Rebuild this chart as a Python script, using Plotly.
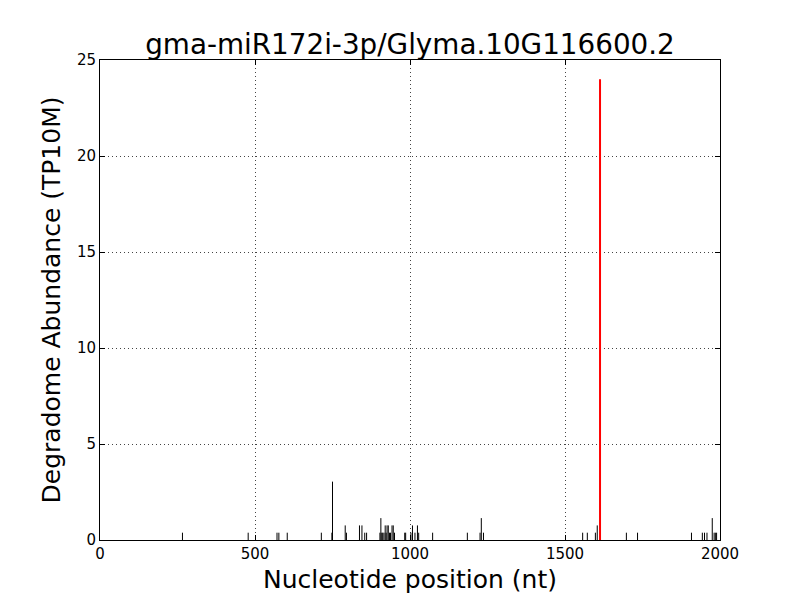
import plotly.graph_objects as go

# Degradome tags (black) : positions (nt) and abundance (TP10M)
positions = [266, 478, 571, 577, 604, 714, 748, 750, 791, 795, 837, 845, 854, 860,
             903, 906, 909, 912, 916, 920, 923, 926, 930, 934, 937, 942, 946, 950,
             983, 986, 1003, 1008, 1016, 1024, 1028, 1073, 1185, 1226, 1230, 1237,
             1557, 1572, 1598, 1604, 1698, 1734, 1908, 1943, 1950, 1958, 1975,
             1981, 1985, 1989]
abundance = [0.38, 0.38, 0.38, 0.38, 0.38, 0.38, 0.38, 3.04, 0.76, 0.38, 0.76, 0.76, 0.38, 0.38,
             0.38, 1.14, 0.38, 0.38, 0.38, 0.76, 0.38, 0.76, 0.76, 0.38, 0.38, 0.76, 0.76, 0.38,
             0.38, 0.38, 0.38, 0.76, 0.38, 0.76, 0.38, 0.38, 0.38, 0.38, 1.14, 0.38,
             0.38, 0.38, 0.38, 0.76, 0.38, 0.38, 0.38, 0.38, 0.38, 0.38, 1.14,
             0.38, 0.38, 0.38]
# miRNA cleavage site (red)
site_pos = [1613]
site_abund = [24.0]

x_ticks = [0, 500, 1000, 1500, 2000]
y_ticks = [0, 5, 10, 15, 20, 25]

def stems(xs, ys):
    sx, sy = [], []
    for a, b in zip(xs, ys):
        sx += [a, a, None]
        sy += [0, b, None]
    return sx, sy

bx, by = stems(positions, abundance)
rx, ry = stems(site_pos, site_abund)

fig = go.Figure()
fig.add_trace(go.Scatter(x=bx, y=by, mode="lines", line=dict(color="black", width=1),
                         hoverinfo="skip", showlegend=False))
fig.add_trace(go.Scatter(x=rx, y=ry, mode="lines", line=dict(color="red", width=2),
                         hoverinfo="skip", showlegend=False))

axis_common = dict(
    showline=True, linecolor="black", linewidth=1, mirror="ticks",
    ticks="inside", ticklen=5, tickcolor="black",
    showgrid=True, gridcolor="#444444", griddash="1px,3px", gridwidth=1,
    zeroline=False, automargin=False,
    tickfont=dict(family="DejaVu Sans", size=15, color="black"),
)

fig.update_layout(
    width=800, height=600,
    paper_bgcolor="white", plot_bgcolor="white",
    margin=dict(l=92, r=88, t=52, b=68, autoexpand=False),
    title=dict(text="gma-miR172i-3p/Glyma.10G116600.2", x=0.5, xanchor="center",
               xref="paper", y=0.94, yanchor="middle",
               font=dict(family="DejaVu Sans", size=27.8, color="black")),
    xaxis=dict(range=[0, 2000], tickvals=x_ticks,
               title=dict(text="Nucleotide position (nt)", standoff=8,
                          font=dict(family="DejaVu Sans", size=25, color="black")),
               **axis_common),
    yaxis=dict(range=[0, 25], tickvals=y_ticks,
               title=dict(text="Degradome Abundance (TP10M)", standoff=9,
                          font=dict(family="DejaVu Sans", size=25, color="black")),
               **axis_common),
)

fig.write_html("out.html")
